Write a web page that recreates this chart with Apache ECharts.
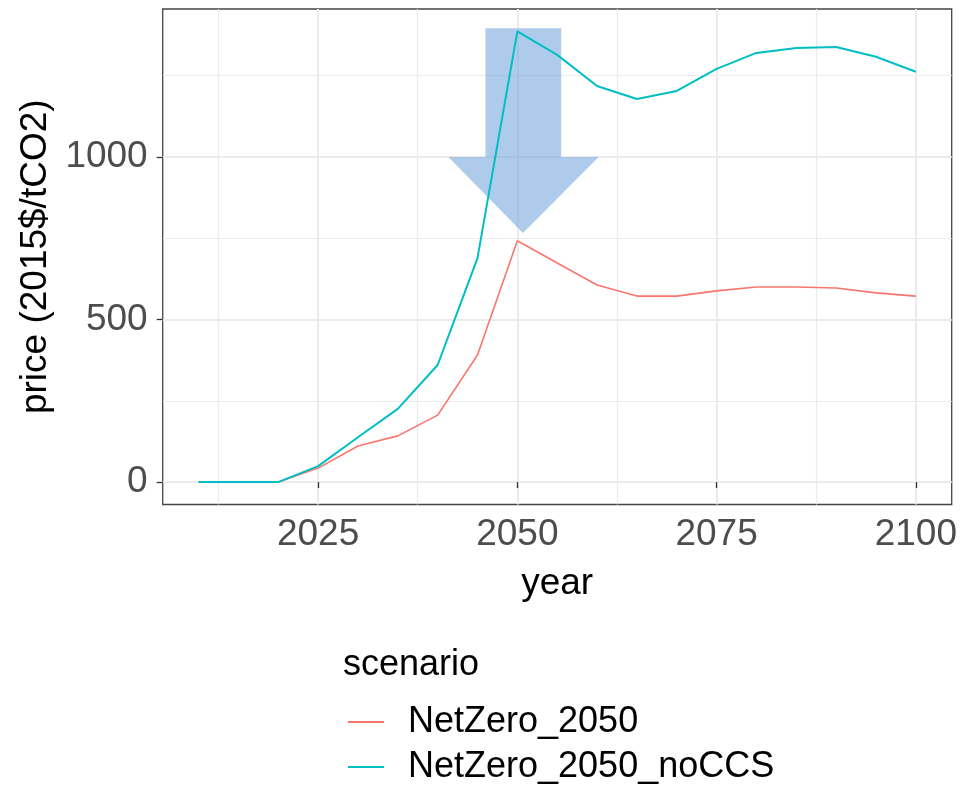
<!DOCTYPE html>
<html>
<head>
<meta charset="utf-8">
<script src="https://cdn.jsdelivr.net/npm/echarts@6/dist/echarts.min.js"></script>
<style>
html, body { margin: 0; padding: 0; background: #fff; }
#main { width: 965px; height: 788px; }
</style>
</head>
<body>
<div id="main"></div>
<script>
// data
var years = [2010, 2015, 2020, 2025, 2030, 2035, 2040, 2045, 2050, 2055, 2060, 2065, 2070, 2075, 2080, 2085, 2090, 2095, 2100];
var netZero = [0, 0, 0, 43, 111, 142, 206, 391, 742, 674, 606, 572, 572, 588, 600, 600, 597, 582, 572];
var netZeroNoCCS = [0, 0, 0, 49, 138, 225, 360, 689, 1386, 1314, 1218, 1178, 1203, 1271, 1320, 1335, 1338, 1308, 1262];
var seriesNames = ['NetZero_2050', 'NetZero_2050_noCCS'];
var seriesColors = ['#F8766D', '#00BFC4'];
var xTicks = [2025, 2050, 2075, 2100];
var xMinorTicks = [2012.5, 2037.5, 2062.5, 2087.5];
var yTicks = [0, 500, 1000];
var yMinorTicks = [250, 750, 1250];
// arrow outline, in data units (year, price)
var arrowShape = [[2046, 1396], [2055.5, 1396], [2055.5, 1000], [2060.2, 1000], [2050.7, 766], [2041.35, 1000], [2046, 1000]];

var FONT = '"Liberation Sans", Arial, sans-serif';

function pairs(ys) {
    return years.map(function (y, i) { return [y, ys[i]]; });
}

function plain(v) {
    return String(v);
}

// one legend per entry so they stack like the ggplot key
function legendRow(name, top) {
    return {
        data: [name],
        orient: 'vertical',
        left: 348,
        top: top,
        padding: 0,
        icon: 'rect',
        itemWidth: 36,
        itemHeight: 2,
        textStyle: { fontFamily: FONT, fontSize: 36, color: '#000', padding: [0, 0, 0, 19] }
    };
}

var myChart = echarts.init(document.getElementById('main'));

var option = {
    animation: false,
    backgroundColor: '#fff',
    textStyle: { fontFamily: FONT },
    title: {
        text: 'scenario',
        left: 343,
        top: 647,
        padding: 0,
        textStyle: { fontFamily: FONT, fontSize: 36, fontWeight: 'normal', color: '#000' }
    },
    legend: [
        legendRow(seriesNames[0], 704),
        legendRow(seriesNames[1], 749)
    ],
    grid: {
        left: 162.7,
        top: 9,
        right: 13.3,
        bottom: 283.5,
        show: true,
        borderColor: '#444',
        borderWidth: 1.3
    },
    xAxis: [
        {
            type: 'value',
            min: 2005.5,
            max: 2104.5,
            position: 'bottom',
            axisLine: { show: false },
            axisTick: { show: true, length: 6, customValues: xTicks, lineStyle: { color: '#333', width: 1.3 } },
            axisLabel: { customValues: xTicks, formatter: plain, fontFamily: FONT, fontSize: 37, color: '#4d4d4d', margin: 12 },
            splitLine: { show: true, lineStyle: { color: '#ebebeb', width: 2 } },
            name: 'year',
            nameLocation: 'middle',
            nameGap: 61,
            nameTextStyle: { fontFamily: FONT, fontSize: 37, color: '#000' }
        },
        {
            type: 'value',
            min: 2005.5,
            max: 2104.5,
            position: 'top',
            axisLine: { show: false },
            axisTick: { show: false, customValues: xMinorTicks },
            axisLabel: { show: false },
            splitLine: { show: true, lineStyle: { color: '#ebebeb', width: 1.2 } }
        }
    ],
    yAxis: [
        {
            type: 'value',
            min: -69,
            max: 1455,
            position: 'left',
            axisLine: { show: false },
            axisTick: { show: true, length: 6, customValues: yTicks, lineStyle: { color: '#333', width: 1.3 } },
            axisLabel: { customValues: yTicks, formatter: plain, fontFamily: FONT, fontSize: 37, color: '#4d4d4d', margin: 15 },
            splitLine: { show: true, lineStyle: { color: '#ebebeb', width: 2 } },
            name: 'price (2015$/tCO2)',
            nameLocation: 'middle',
            nameRotate: 90,
            nameGap: 101,
            nameTextStyle: { fontFamily: FONT, fontSize: 37, color: '#000' }
        },
        {
            type: 'value',
            min: -69,
            max: 1455,
            position: 'right',
            axisLine: { show: false },
            axisTick: { show: false, customValues: yMinorTicks },
            axisLabel: { show: false },
            splitLine: { show: true, lineStyle: { color: '#ebebeb', width: 1.2 } }
        }
    ],
    series: [
        {
            name: 'arrow',
            type: 'custom',
            silent: true,
            z: 1,
            data: [[2050, 1000]],
            renderItem: function (params, api) {
                return {
                    type: 'polygon',
                    shape: { points: arrowShape.map(function (p) { return api.coord(p); }) },
                    style: { fill: 'rgba(120,168,222,0.6)' }
                };
            }
        },
        {
            name: seriesNames[0],
            type: 'line',
            symbol: 'none',
            z: 3,
            color: seriesColors[0],
            lineStyle: { color: seriesColors[0], width: 1.6 },
            data: pairs(netZero)
        },
        {
            name: seriesNames[1],
            type: 'line',
            symbol: 'none',
            z: 3,
            color: seriesColors[1],
            lineStyle: { color: seriesColors[1], width: 2 },
            data: pairs(netZeroNoCCS)
        }
    ]
};

myChart.setOption(option);
</script>
</body>
</html>
